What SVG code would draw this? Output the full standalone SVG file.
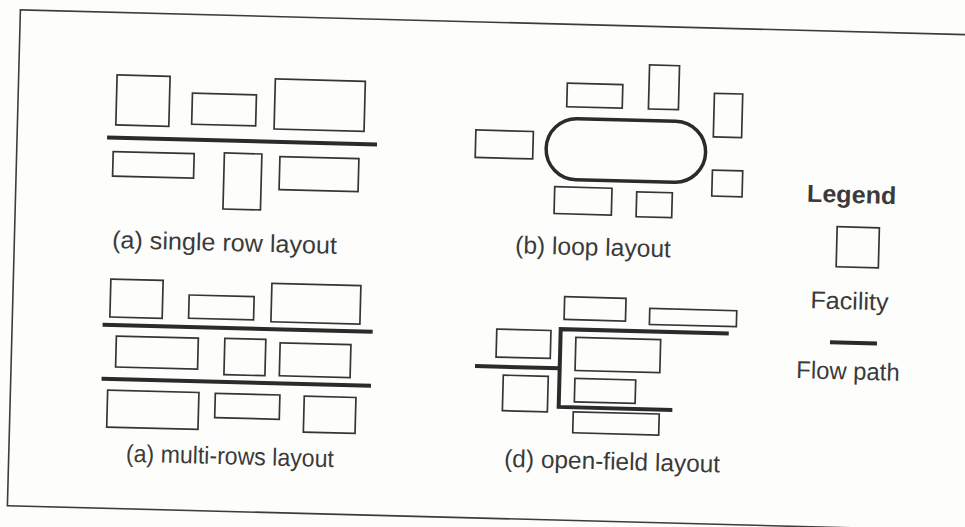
<svg xmlns="http://www.w3.org/2000/svg" width="965" height="527" viewBox="0 0 965 527">
  <style>
    .fac { fill: none; stroke: #353535; stroke-width: 1.7; }
    .flow { fill: none; stroke: #2b2b2b; stroke-width: 4; stroke-linecap: butt; stroke-linejoin: miter; }
    .loop { fill: none; stroke: #2b2b2b; stroke-width: 3.5; }
    .lbl { font-family: "Liberation Sans", Arial, sans-serif; font-size: 24.5px; fill: #3a3a3a; }
    .bold { font-weight: bold; }
    .frame { fill: none; stroke: #3c3c3c; stroke-width: 1.6; }
  </style>
  <rect x="0" y="0" width="965" height="527" fill="#fdfdfb"/>
  <g id="sheet" transform="rotate(1.5 480 260)">
    <rect id="frame" class="frame" x="14" y="22" width="990" height="496"/>

    <!-- (a) single row layout -->
    <g id="single-row">
      <rect id="sr-f1" class="fac" x="112.4" y="84.5" width="53" height="50"/>
      <rect id="sr-f2" class="fac" x="188.2" y="100.8" width="64" height="31"/>
      <rect id="sr-f3" class="fac" x="270.7" y="84.4" width="90" height="50"/>
      <rect id="sr-f4" class="fac" x="110.5" y="161.2" width="81" height="24.5"/>
      <rect id="sr-f5" class="fac" x="221.7" y="159.7" width="37.5" height="56"/>
      <rect id="sr-f6" class="fac" x="277.3" y="161.9" width="79" height="33"/>
      <text class="lbl" x="111.7" y="257.6" textLength="225" lengthAdjust="spacingAndGlyphs">(a) single row layout</text>
    </g>

    <!-- (b) loop layout -->
    <g id="loop">
      <rect id="lp-f1" class="fac" x="472.5" y="130.1" width="57.5" height="27.5"/>
      <rect id="lp-f2" class="fac" x="562.7" y="81" width="55.5" height="23.5"/>
      <rect id="lp-f3" class="fac" x="644.4" y="60.6" width="30" height="44"/>
      <rect id="lp-f4" class="fac" x="710" y="87.2" width="28.3" height="43.6"/>
      <rect id="lp-f5" class="fac" x="710" y="164" width="30.3" height="26"/>
      <rect id="lp-f6" class="fac" x="552.8" y="184.8" width="57.3" height="26.8"/>
      <rect id="lp-f7" class="fac" x="634.9" y="187.7" width="35.6" height="25"/>
      <text class="lbl" x="514.8" y="252.4" textLength="155.7" lengthAdjust="spacingAndGlyphs">(b) loop layout</text>
    </g>

    <!-- Legend -->
    <g id="legend">
      <text class="lbl bold" x="805.2" y="193.2" textLength="89.3" lengthAdjust="spacingAndGlyphs">Legend</text>
      <rect id="legend-facility" class="fac" x="836.2" y="217.4" width="42.2" height="40"/>
      <text class="lbl" x="811.3" y="299.7" textLength="78.3" lengthAdjust="spacingAndGlyphs">Facility</text>
      <line id="legend-flow" class="flow" x1="832" y1="333" x2="879" y2="333"/>
      <text class="lbl" x="799.1" y="369.8" textLength="103.3" lengthAdjust="spacingAndGlyphs">Flow path</text>
    </g>

    <!-- (a) multi-rows layout -->
    <g id="multi-rows">
      <rect id="mr-f1" class="fac" x="111.5" y="288.7" width="52.3" height="38"/>
      <rect id="mr-f2" class="fac" x="190.2" y="302.6" width="65" height="23.3"/>
      <rect id="mr-f3" class="fac" x="272.6" y="288.8" width="89" height="38.4"/>
      <rect id="mr-f4" class="fac" x="118.5" y="345.5" width="82" height="31"/>
      <rect id="mr-f5" class="fac" x="227" y="345" width="41" height="36.3"/>
      <rect id="mr-f6" class="fac" x="282.4" y="348" width="70.8" height="33"/>
      <rect id="mr-f7" class="fac" x="111.2" y="399.8" width="91.3" height="37"/>
      <rect id="mr-f8" class="fac" x="218.9" y="400.2" width="64.6" height="24.3"/>
      <rect id="mr-f9" class="fac" x="307.9" y="400.7" width="51.7" height="36"/>
      <text class="lbl" x="131.2" y="470.9" textLength="208" lengthAdjust="spacingAndGlyphs">(a) multi-rows layout</text>
    </g>

    <!-- (d) open-field layout -->
    <g id="open-field">
      <rect id="of-f1" class="fac" x="565.6" y="294.5" width="61.4" height="22.7"/>
      <rect id="of-f2" class="fac" x="651" y="304" width="87" height="16"/>
      <rect id="of-f3" class="fac" x="498.6" y="328.6" width="54.2" height="28"/>
      <rect id="of-f4" class="fac" x="506.3" y="374.5" width="45" height="35.5"/>
      <rect id="of-f5" class="fac" x="577.9" y="334.8" width="84.8" height="33.2"/>
      <rect id="of-f6" class="fac" x="578" y="375.9" width="60.8" height="23.4"/>
      <rect id="of-f7" class="fac" x="577.2" y="409.3" width="86" height="21"/>
      <text class="lbl" x="509.4" y="466.1" textLength="216" lengthAdjust="spacingAndGlyphs">(d) open-field layout</text>
    </g>

    <!-- flow paths -->
    <g id="flow-paths">
      <line class="flow" x1="104" y1="147.2" x2="374" y2="147.2"/>
      <rect class="loop" x="543.2" y="116.2" width="159.5" height="61" rx="30.5" ry="30.5"/>
      <line class="flow" x1="104.4" y1="334.6" x2="374.6" y2="334.6"/>
      <line class="flow" x1="104.8" y1="388.5" x2="374.3" y2="388.5"/>
      <path class="flow" d="M730.6,327 H562.5 V404.8 H676.2"/>
      <line class="flow" x1="477.8" y1="366.2" x2="562.5" y2="366.2"/>
    </g>
  </g>
</svg>
